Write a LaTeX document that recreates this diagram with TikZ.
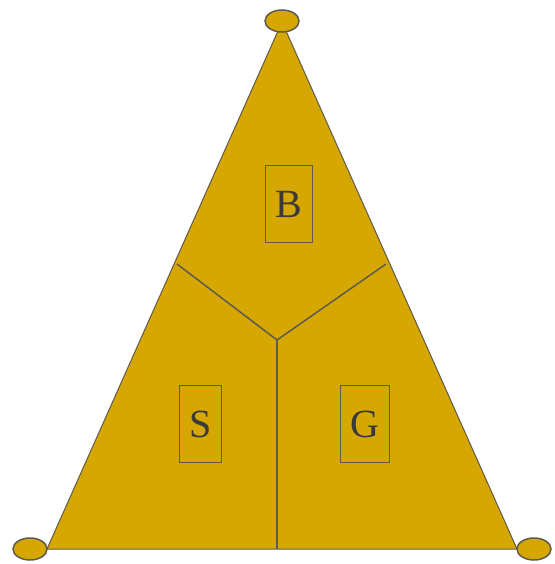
\documentclass[tikz,border=0pt]{standalone}
\usepackage{fontspec}
\setmainfont{Liberation Serif}
\usepackage{xcolor}
\usetikzlibrary{shapes.geometric}
\definecolor{gold}{HTML}{D5A700}
\definecolor{edge}{HTML}{5E5A4E}
\definecolor{ink}{HTML}{3A3A3A}

\begin{document}
\begin{tikzpicture}[
  x=1pt,y=-1pt,
  corner/.style={draw=edge,line width=1.5pt,fill=gold,ellipse,minimum width=34pt,minimum height=22pt,inner sep=0pt},
  region/.style={draw=edge,line width=1.5pt,fill=none,inner xsep=10pt,minimum height=77pt,text=ink,font=\fontsize{40}{40}\selectfont},
  split/.style={draw=edge,line width=1.5pt}
]
\useasboundingbox (0,0) rectangle (554,564);
% triangle corners
\coordinate (top) at (282,22);
\coordinate (left) at (47,549);
\coordinate (right) at (517,549);
\coordinate (mid) at (277,340);
\coordinate (ledge) at (177,264);
\coordinate (redge) at (386,264);
\coordinate (base) at (277,549);
\fill[gold,draw=edge,line width=1pt] (top)--(left)--(right)--cycle;
\draw[split] (ledge)--(mid)--(redge);
\draw[split] (mid)--(base);
% labels
\node[region] (b) at (289,204) {B};
\node[region] (s) at (200.5,424) {S};
\node[region] (g) at (365,424) {G};
% end caps
\node[corner] (ctop) at (282,21) {};
\node[corner] (cleft) at (30,549) {};
\node[corner] (cright) at (534,549) {};
\end{tikzpicture}
\end{document}
